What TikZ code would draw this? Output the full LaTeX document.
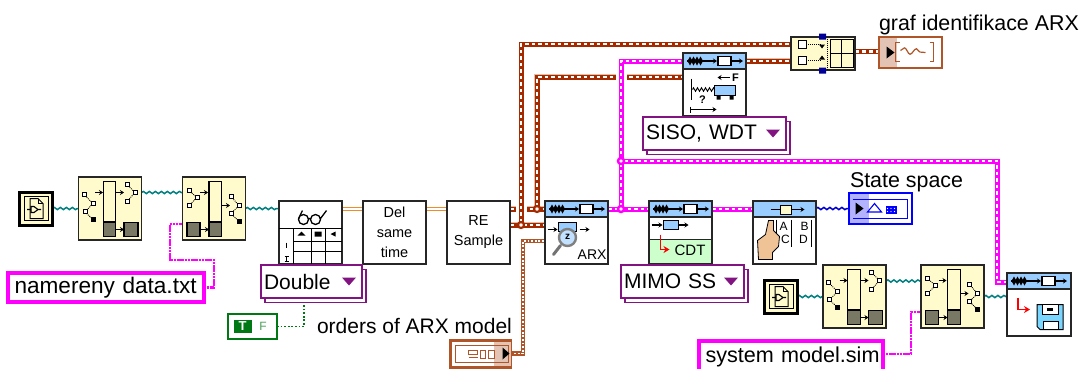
\documentclass[tikz,border=0pt]{standalone}
\usepackage{fontspec}
\setmainfont{Liberation Sans}
\usetikzlibrary{arrows.meta,positioning,backgrounds,calc,shadows,decorations.pathmorphing}
\definecolor{palebox}{RGB}{255,251,204}
\definecolor{headblue}{RGB}{153,204,255}
\definecolor{cdtgreen}{RGB}{204,255,204}
\definecolor{wirepink}{RGB}{255,0,255}
\definecolor{wirebrown}{RGB}{165,42,0}
\definecolor{edgebrown}{RGB}{225,190,165}
\definecolor{clusterbrown}{RGB}{175,85,40}
\definecolor{wireteal}{RGB}{0,128,128}
\definecolor{wireorange}{RGB}{240,140,40}
\definecolor{ringpurple}{RGB}{130,20,130}
\definecolor{boolgreen}{RGB}{0,120,20}
\definecolor{gridgray}{RGB}{120,120,100}
\definecolor{handtan}{RGB}{240,195,150}
\newcommand{\tinybox}[2]{\draw[fill=white,line width=.9] (#1,#2) ++(-2,-2) rectangle ++(4,4);}
\tikzset{
  smallarrow/.style={-{Stealth[length=4pt,width=5pt]},line width=1.2},
  stripicon/.pic={
    \draw[fill=palebox,line width=1.2] (-6.7,-27.3) rectangle (5.7,13.5);
    \draw[fill=gridgray,line width=1.2] (-6.7,13.5) rectangle (5.7,28);
    \draw[fill=gridgray,line width=1.2] (14,14) rectangle (28,28);
    \draw[smallarrow] (5.7,21) -- (14,21);
    \draw[smallarrow] (-15,-16) -- (-7,-16);
    \draw[smallarrow] (6,-16) -- (14,-16);
    \draw[densely dotted,line width=.9] (-26,-14) -- (-17,-5) -- (-25,3.3) -- (-17,11) (17,-24) -- (25,-16) -- (17,-7);
    \tinybox{-26}{-14}\tinybox{-17}{-5}\tinybox{-25}{3.3}
    \tinybox{17}{-24}\tinybox{25}{-16}\tinybox{17}{-7}
    \fill (-19.5,8.5) rectangle ++(5,5);
  },
  buildicon/.pic={
    \draw[fill=palebox,line width=1.2] (-5,-27.3) rectangle (7.7,13.5);
    \draw[fill=gridgray,line width=1.2] (-5,13.5) rectangle (7.7,28);
    \draw[fill=gridgray,line width=1.2] (-27,14) rectangle (-14,28);
    \draw[smallarrow] (-14,21) -- (-5,21);
    \draw[smallarrow] (-14,-16) -- (-6,-16);
    \draw[smallarrow] (8,-3) -- (16,-3);
    \draw[densely dotted,line width=.9] (-25,-18) -- (-17,-11) -- (-25,-3) (17,-12) -- (25,-3) -- (17,5) -- (25,13);
    \tinybox{-25}{-18}\tinybox{-17}{-11}\tinybox{-25}{-3}
    \tinybox{17}{-12}\tinybox{25}{-3}\tinybox{17}{5}
    \fill (22.5,10.5) rectangle ++(5,5);
  },
  pathicon/.pic={
    \draw[line width=.9] (-12,-12) rectangle (12,12);
    \draw[fill=palebox,line width=1] (-6,-10) -- (2,-10) -- (7,-5) -- (7,10) -- (-6,10) -- cycle;
    \draw[line width=.9] (2,-10) -- (2,-5) -- (7,-5);
    \draw[line width=1.1] (-9,1) -- (-5,1) (-5,-2) -- (-2,-2) -- (2,1) -- (-2,4) -- (-5,4) -- cycle (2,1) -- (5,1);
  },
  headericon/.pic={
    \foreach \bx in {7,10.5,14,17.5} {\fill (\bx,-4.5) -- (\bx+2.5,0) -- (\bx,4.5) -- (\bx-2.5,0) -- cycle;}
    \draw[line width=1.2] (4,0) -- (24,0);
    \draw[smallarrow] (24,0) -- (34,0);
    \draw[fill=white,line width=1.2] (35,-4.5) rectangle (48,4.5);
    \draw[smallarrow] (49,0) -- (60,0);
  },
  ringmark/.pic={\fill[ringpurple] (-7,-4) -- (7,-4) -- (0,4) -- cycle;},
}
\begin{document}
\begin{tikzpicture}[x=1pt,y=-1pt,
    every node/.style={outer sep=0pt,inner sep=0pt},
    vibox/.style={draw=black!85,fill=white,line width=1.5,minimum width=63,minimum height=63},
    buildbox/.style={vibox,fill=palebox},
    textbox/.style={vibox,align=center,font=\fontsize{14.5}{20}\selectfont},
    headbox/.style={vibox,path picture={\fill[headblue] (path picture bounding box.north west) rectangle ([yshift=-16pt]path picture bounding box.north east);
      \draw[line width=1.2,black!85] ([yshift=-16pt]path picture bounding box.north west) -- ([yshift=-16pt]path picture bounding box.north east);}},
    pathbox/.style={draw=black,fill=palebox,line width=3,minimum size=33},
    ringbox/.style={draw=ringpurple,fill=white,line width=1.2,minimum height=33,text width=#1,align=left,inner xsep=3pt,
      font=\fontsize{21}{24}\selectfont,copy shadow={shadow xshift=4pt,shadow yshift=-4.5pt,draw=ringpurple,fill=white,opacity=1}},
    stringbox/.style={draw=wirepink,fill=white,line width=4,minimum height=29,text width=#1,align=left,inner xsep=6.5pt,font=\fontsize{22.6}{24}\selectfont},
    termbox/.style={draw=#1,fill=white,line width=1.6,minimum width=63,minimum height=31},
    vilabel/.style={font=\fontsize{21.4}{24}\selectfont},
    brownjunc/.style={circle,draw=wirebrown,fill=white,line width=2.2,minimum size=6},
    pinkjunc/.style={circle,draw=wirepink,fill=white,line width=2.4,minimum size=6},
    tealwire/.style={wireteal,line width=1.5,decorate,decoration={snake,amplitude=1.1,segment length=6}},
    bluewire/.style={blue!80!black,line width=1.5,decorate,decoration={snake,amplitude=1.1,segment length=6}},
    thinpink/.style={wirepink,line width=2.4,dash pattern=on 2.2pt off .6pt},
    pinkwire/.style={wirepink,line width=5,postaction={draw=white,line width=2,dash pattern=on 3.5pt off 3pt}},
    brownwire/.style={preaction={draw=edgebrown,line width=6.6},wirebrown,line width=5,postaction={draw=white,line width=2,dash pattern=on 3.5pt off 3pt}},
    stripewire/.style={wirebrown,line width=5.5,postaction={draw=white,line width=3,dash pattern=on 4pt off 3pt}},
    clusterwire/.style={clusterbrown,line width=4.4,postaction={draw=white,line width=1.5,dash pattern=on 1.8pt off 1.8pt}},
    orangewire/.style={wireorange,line width=4.6,postaction={draw=white,line width=1.4}},
    gapped/.style={preaction={draw=white,line width=11}},
    booldots/.style={boolgreen,line width=1.8,dash pattern=on 1.8pt off 1.8pt},
  ]
  \useasboundingbox (0,0) rectangle (1083,368);

  % Read data path
  \node[pathbox] (pathA) at (36,208.5) {};
  \node[buildbox,right=26pt of pathA] (buildA) {};
  \node[buildbox,right=41pt of buildA] (buildB) {};
  \node[stringbox=183pt] (nameData) at (106,287.5) {namereny data.txt};

  % Main row
  \node[vibox,right=33.5pt of buildB,yshift=-24pt] (readFile) {};
  \node[textbox,right=21pt of readFile] (delTime) {Del\\same\\time};
  \node[textbox,right=21pt of delTime] (reSample) {RE\\Sample};
  \node[headbox,right=35pt of reSample] (arx) {};
  \node[headbox,right=41pt of arx] (cdt) {};
  \node[headbox,right=41pt of cdt] (ssConv) {};

  % Rings
  \node[ringbox=95pt,below=1pt of readFile,xshift=1pt] (ringDouble) {Double};
  \node[ringbox=117pt,below=1pt of cdt,xshift=2pt] (ringMimo) {MIMO SS};
  \node[headbox] (siso) at (714.5,84.5) {};
  \node[ringbox=137pt,below=1pt of siso] (ringSiso) {SISO, WDT};

  % Constants
  \node[draw=boolgreen,fill=white,line width=2.4,minimum width=49,minimum height=25] (boolA) at (252.5,326.5) {};
  \node[fill=boolgreen,text=white,minimum width=18,minimum height=13,font=\fontsize{13}{13}\bfseries\selectfont] (boolT) at (242.5,326.5) {T};
  \node[text=boolgreen!70,font=\fontsize{12}{12}\selectfont] (boolF) at (263,326.5) {F};
  \node[right=40pt of boolA,font=\fontsize{21}{24}\selectfont,yshift=.5pt] (orderLabel) {orders of ARX model};
  \node[draw=clusterbrown,fill=white,line width=3,minimum width=60,minimum height=27] (clusterA) at (480.5,353.5) {};

  % Graph output
  \node[vibox,fill=palebox,minimum width=64,minimum height=33] (mergeSig) at (823,53.5) {};
  \node[termbox=clusterbrown,right=24pt of mergeSig,yshift=1pt] (graphOut) {};
  \node[vilabel,anchor=south west] (graphLabel) at ([xshift=0pt,yshift=2pt]graphOut.north west) {graf identifikace ARX};

  % State space output
  \node[termbox=blue,right=33pt of ssConv,yshift=24pt] (stateOut) {};
  \node[vilabel,anchor=south west] (stateLabel) at ([xshift=1pt,yshift=1pt]stateOut.north west) {State space};

  % Save path
  \node[buildbox] (buildC) at (854.5,296.5) {};
  \node[pathbox,left=25.5pt of buildC] (pathB) {};
  \node[buildbox,right=35pt of buildC] (buildD) {};
  \node[headbox,right=23pt of buildD,yshift=-8pt,minimum width=64] (saveSys) {};
  \node[stringbox=171pt,font=\fontsize{21.6}{24}\selectfont,minimum height=33] (nameSim) at (791,357) {\mbox{system model.sim}};

  % Junctions
  \node[brownjunc] (juncUp) at (537,209) {};
  \node[brownjunc] (juncLow) at (521,225) {};
  \node[pinkjunc] (juncMid) at (621,209) {};
  \node[pinkjunc] (juncSave) at (621,161) {};
  \coordinate (turnA) at (214,260);
  \coordinate (turnB) at (170,260);
  \coordinate (turnC) at (997,161);
  \coordinate (turnD) at (911,312);
  \coordinate (turnE) at (523,241);

  % Wires
  \begin{scope}[on background layer]
    \fill[white] (0,0) rectangle (1083,368);
    \draw[tealwire] (pathA.east) -- (buildA.west);
    \draw[tealwire] ([yshift=16pt]buildA.east) -- ([yshift=16pt]buildB.west);
    \draw[tealwire] (buildB.east) -- ([yshift=24pt]readFile.west);
    \draw[thinpink] (nameData.east) -| (turnA) -- (turnB) |- ([yshift=-15.5pt]buildB.west);
    \draw[orangewire] ([yshift=23.5pt]readFile.east) -- ([yshift=23.5pt]delTime.west);
    \draw[orangewire] ([yshift=23.5pt]delTime.east) -- ([yshift=23.5pt]reSample.west);
    \draw[booldots] (boolA.east) -| ([xshift=-7.5pt]ringDouble.south);
    \draw[brownwire] ([yshift=23.5pt]reSample.east) -- ([yshift=23.5pt]arx.west);
    \draw[brownwire] ([yshift=7.5pt]reSample.east) -- ([yshift=7.5pt]arx.west);
    \draw[brownwire,gapped] (juncLow) |- ([yshift=9.5pt]mergeSig.west);
    \draw[brownwire] (juncUp) |- ([yshift=7.5pt]siso.west);
    \draw[brownwire] ([yshift=23.5pt]siso.east) -- ([yshift=-7.5pt]mergeSig.west);
    \draw[stripewire] ([yshift=2pt]mergeSig.east) -- ([yshift=1pt]graphOut.west);
    \draw[clusterwire] (clusterA.east) -| (turnE) -- ([yshift=-8.5pt]arx.west);
    \draw[pinkwire,gapped] (juncMid) |- ([yshift=23.5pt]siso.west);
    \draw[pinkwire] ([yshift=23.5pt]arx.east) -- ([yshift=23.5pt]cdt.west);
    \draw[pinkwire] ([yshift=23.5pt]cdt.east) -- ([yshift=23.5pt]ssConv.west);
    \draw[pinkwire] (juncSave) -- (turnC) |- ([yshift=22.5pt]saveSys.west);
    \draw[bluewire] ([yshift=24pt]ssConv.east) -- (stateOut.west);
    \draw[tealwire] (pathB.east) -- (buildC.west);
    \draw[tealwire] ([yshift=15.5pt]buildC.east) -- ([yshift=15.5pt]buildD.west);
    \draw[tealwire] (buildD.east) -- ([yshift=8pt]saveSys.west);
    \draw[thinpink] ([yshift=3pt]nameSim.east) -| (turnD) -- ([yshift=-15.5pt]buildD.west);
  \end{scope}

  % Icons
  \pic at (buildA) {stripicon};
  \pic at (buildB) {buildicon};
  \pic at (buildC) {stripicon};
  \pic at (buildD) {buildicon};
  \pic at (pathA) {pathicon};
  \pic at (pathB) {pathicon};
  \pic at ([yshift=-8pt,xshift=0pt]arx.north west) {headericon};
  \pic at ([yshift=-8pt]cdt.north west) {headericon};
  \pic at ([yshift=-8pt]siso.north west) {headericon};
  \pic at ([yshift=-8pt]saveSys.north west) {headericon};
  \pic at ([xshift=-13pt]ringDouble.east) {ringmark};
  \pic at ([xshift=-13pt]ringMimo.east) {ringmark};
  \pic at ([xshift=-13pt]ringSiso.east) {ringmark};

  % Read file icon
  \begin{scope}[shift={(readFile.center)}]
    \draw[line width=1.3] (-7,-13) circle (5) (5,-13) circle (5) (-2,-14) -- (0,-14) (-12,-14) -- (-8,-22) (10,-14) -- (16,-22);
    \draw[line width=1.1] (-31.5,-4) -- (31.5,-4) (-17,9) -- (31.5,9) (-17,19) -- (31.5,19) (-17,-4) -- (-17,31.5) (1,-4) -- (1,31.5) (15,-4) -- (15,31.5);
    \fill (-13,3) -- (-9,-1) -- (-5,3) -- cycle (4,-1) rectangle (11,4) (25,-1) -- (20,1.5) -- (25,4) -- cycle;
    \draw[line width=1.4] (-24,10) -- (-24,15) (-26,24) -- (-22,24) (-24,24) -- (-24,29) (-26,29) -- (-22,29);
  \end{scope}

  % ARX icon
  \begin{scope}[shift={(arx.center)}]
    \draw[fill=headblue,line width=1] (-18,-10) rectangle (0,-1);
    \draw[smallarrow] (-29,-3) -- (-19,-3);
    \draw[smallarrow] (3,-3) -- (13,-3);
    \draw[line width=3,black!55,line cap=round] (-16,13) -- (-23,22);
    \draw[draw=black!50,fill=headblue!60,line width=2.4] (-9,5) circle (8.5);
    \node[font=\fontsize{10}{10}\bfseries\selectfont] (arxZ) at (-9,4) {z};
    \node[font=\fontsize{14}{14}\selectfont,anchor=east] (arxText) at (30,22) {ARX};
  \end{scope}

  % CDT icon
  \begin{scope}[shift={(cdt.center)}]
    \fill[cdtgreen] (-30.8,6.5) rectangle (30.8,30.8);
    \draw[black!85,line width=1] (-31.5,6.5) -- (31.5,6.5);
    \draw[fill=headblue,line width=1] (-17.5,-12) rectangle (-2.5,-3);
    \draw[smallarrow] (-29,-7.5) -- (-18,-7.5);
    \draw[smallarrow] (-2,-7.5) -- (8,-7.5);
    \draw[red,line width=1.8,-{Stealth[length=6pt,width=7pt]}] (-20,2) -- (-20,17) -- (-11,17);
    \node[font=\fontsize{15}{15}\selectfont] (cdtText) at (9.5,17.5) {CDT};
  \end{scope}

  % SISO icon
  \begin{scope}[shift={(siso.center)}]
    \draw[line width=1.2] (-23,-6) -- (-23,15);
    \draw[line width=.9,decorate,decoration={zigzag,amplitude=1.8,segment length=4}] (-22,5) -- (0,5);
    \draw[fill=headblue,line width=1] (0,1) rectangle (21,11);
    \fill (2,11) rectangle (6,15) (15,11) rectangle (19,15);
    \node[font=\fontsize{11}{11}\bfseries\selectfont] (sisoQ) at (-12,15) {?};
    \draw[smallarrow] (15,-7) -- (3,-7);
    \node[font=\fontsize{11}{11}\bfseries\selectfont] (sisoF) at (21,-7) {F};
    \draw[line width=1] (-24,22) -- (-24,28);
    \draw[smallarrow] (-24,25) -- (2,25);
  \end{scope}

  % Merge icon
  \begin{scope}[shift={(mergeSig.center)}]
    \draw[fill=white,line width=1] (-25,-13) rectangle (-17,-5) (-25,3) rectangle (-17,11);
    \draw[densely dotted,line width=1] (-17,-9) -- (-2,-9) (-17,7) -- (-2,7) (4,-15) -- (4,16);
    \fill (-4,-9) -- (2,-9) -- (-1,-5) -- cycle (-4,6) -- (2,6) -- (-1,2) -- cycle;
    \fill[blue!60!black] (-4,-20) rectangle (3,-14) (-4,14) rectangle (3,20);
    \draw[line width=1] (7,-14) rectangle (30,14) (7,0) -- (30,0) (18.5,-14) -- (18.5,14);
  \end{scope}

  % Graph terminal
  \begin{scope}[shift={(graphOut.center)}]
    \fill[clusterbrown!35] (-30.7,-14.7) rectangle (-14,14.7);
    \fill (-24,-6) -- (-24,6) -- (-16,0) -- cycle;
    \draw[clusterbrown,line width=1.6] (-11,-10) -- (-15,-10) -- (-15,9) -- (-11,9) (19,-10) -- (23,-10) -- (23,9) -- (19,9);
    \draw[clusterbrown,line width=1.2,decorate,decoration={snake,amplitude=3,segment length=12}] (-10,-2) -- (15,0);
  \end{scope}

  % State terminal
  \begin{scope}[shift={(stateOut.center)}]
    \fill[blue!30] (-30.7,-14.7) rectangle (-12,14.7);
    \draw[blue,line width=1.4] (-28,-9) -- (27,-9) -- (27,10) -- (-28,10);
    \fill (-25,-6) -- (-25,6) -- (-17,0) -- cycle;
    \draw[blue,line width=1.1,fill=white] (-13,3.5) -- (1,3.5) -- (-6,-5) -- cycle;
    \fill[blue] (5,-2.5) rectangle (16,5.5);
    \fill[white] (7,0) circle (.6) (10.5,0) circle (.6) (14,0) circle (.6) (7,3) circle (.6) (10.5,3) circle (.6) (14,3) circle (.6);
  \end{scope}

  % Cluster constant
  \begin{scope}[shift={(clusterA.center)}]
    \fill[clusterbrown!35] (13,-12) rectangle (30,12);
    \draw[clusterbrown,line width=1] (-25,-8) rectangle (28,9);
    \fill (22,-6) -- (22,6) -- (29,0) -- cycle;
    \draw[clusterbrown,line width=1.1] (-12,-3) rectangle (-3,1) (-12,4) -- (-3,4) (0,-3) rectangle (5,5) (8,-3) rectangle (14,5);
  \end{scope}

  % State space icon
  \begin{scope}[shift={(ssConv.center)}]
    \draw[line width=1.2] (-14,-23) -- (10,-23);
    \draw[smallarrow] (9,-23) -- (20,-23);
    \draw[fill=palebox,line width=1] (-4,-27.5) rectangle (7,-18.5);
    \node[font=\fontsize{12}{12}\selectfont] (ssA) at (-1,-6) {A};
    \node[font=\fontsize{12}{12}\selectfont] (ssB) at (20,-6) {B};
    \node[font=\fontsize{12}{12}\selectfont] (ssC) at (1,7) {C};
    \node[font=\fontsize{12}{12}\selectfont] (ssD) at (19,7) {D};
    \draw[line width=1] (-8,-13) -- (-8,14) (27,-13) -- (27,14) (7,-13) -- (7,14);
    \draw[fill=handtan,line width=.8] (-26,27) -- (-27,8) -- (-19,2) -- (-16,-12) -- (-11,-12) -- (-11,-2) -- (-5,4) -- (-6,14) -- (-12,20) -- (-12,27) -- cycle;
  \end{scope}

  % Save icon
  \begin{scope}[shift={(saveSys.center)}]
    \draw[red,line width=1.8,-{Stealth[length=6pt,width=7pt]}] (-21,-7) -- (-21,5) -- (-9,5);
    \draw[fill=headblue!80!cyan,line width=1] (-2,0) -- (24,0) -- (24,25) -- (1,25) -- (-2,22) -- cycle;
    \draw[fill=white,line width=.8] (3,0) rectangle (19,10) (4,17) rectangle (19,25);
    \fill (8,3) rectangle (14,6);
  \end{scope}
\end{tikzpicture}
\end{document}
